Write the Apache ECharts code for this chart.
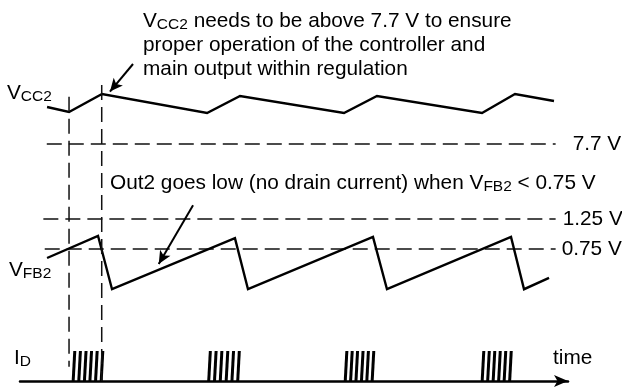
<!DOCTYPE html>
<html>
<head>
<meta charset="utf-8">
<script src="https://cdn.jsdelivr.net/npm/echarts@6/dist/echarts.min.js"></script>
<style>
  html, body { margin: 0; padding: 0; background: #fff; }
  #chart { width: 622px; height: 387px; }
</style>
</head>
<body>
<div id="chart"></div>
<script>
// Time base: arbitrary units, one VFB2 ramp period is about 10 units.
const vcc2Time  = [1.97, 3.57, 5.97, 13.62, 16.02, 23.59, 25.99, 33.64, 36.04, 38.88];
const vcc2Volts = [9.55, 9.30, 10.20, 9.25, 10.10, 9.25, 10.10, 9.25, 10.20, 9.85];

const vfb2Time  = [1.97, 5.68, 6.70, 15.65, 16.60, 25.70, 26.72, 35.75, 36.70, 38.52];
const vfb2Volts = [0.60, 0.97, 0.08, 0.93, 0.08, 0.95, 0.08, 0.95, 0.08, 0.27];

// Drain current pulses (switching bursts while VFB2 is above 0.75 V)
const idPulseTimes = [
  3.93, 4.34, 4.75, 5.15, 5.56, 5.97,
  13.80, 14.22, 14.64, 15.07, 15.49, 15.91,
  23.74, 24.13, 24.52, 24.92, 25.31, 25.70,
  33.71, 34.11, 34.51, 34.91, 35.31, 35.71
];
const idPulseLevel = 1;

// Threshold levels
const vccThreshold = 7.7;
const fbThresholds = [1.25, 0.75];
const thresholdLabels = ['7.7 V', '1.25 V', '0.75 V'];
const thresholdStart = [1.95, 1.70, 1.80];
const thresholdEnd = 39.0;

// Time markers (start / end of the first burst)
const markerTimes = [3.57, 5.95];

const FONT = "'Liberation Sans', Arial, Helvetica, sans-serif";
const FS = 20.8;
const SUB = { fontSize: 15.5, lineHeight: 15.5, verticalAlign: 'bottom', fontFamily: FONT, fill: '#000' };

const zip = (a, b) => a.map((v, i) => [v, b[i]]);

const gridBase = { left: 20, right: 54 };
const xBase = { type: 'value', min: 0, max: 39.9, show: false };

function thresholdSeries(axis, level, start, label, dist) {
  return {
    type: 'line', xAxisIndex: axis, yAxisIndex: axis,
    symbol: 'none', silent: true, clip: false,
    lineStyle: { color: '#111', width: 1.5, type: [15, 7] },
    endLabel: {
      show: true, formatter: label, distance: dist,
      color: '#000', fontFamily: FONT, fontSize: FS
    },
    data: [[start, level], [thresholdEnd, level]]
  };
}

function richText(left, top, text) {
  return {
    type: 'text', left: left, top: top,
    style: {
      text: text, fill: '#000', fontFamily: FONT, fontSize: FS, lineHeight: 24,
      rich: { sub: SUB }
    }
  };
}

const arrowStyle = {
  symbol: ['none', 'arrow'], symbolSize: [9, 13], silent: true,
  label: { show: false },
  lineStyle: { type: 'solid', color: '#000', width: 2 }
};

const chart = echarts.init(document.getElementById('chart'), null, { renderer: 'canvas' });

chart.setOption({
  animation: false,
  backgroundColor: '#fff',
  grid: [
    Object.assign({ top: 40, height: 120 }, gridBase),   // VCC2
    Object.assign({ top: 189, height: 105 }, gridBase),  // VFB2
    Object.assign({ top: 351, height: 30 }, gridBase),   // ID
    Object.assign({ top: 80, height: 301 }, gridBase)    // time markers
  ],
  xAxis: [
    Object.assign({ gridIndex: 0 }, xBase),
    Object.assign({ gridIndex: 1 }, xBase),
    {
      gridIndex: 2, type: 'value', min: 0, max: 39.9, show: true,
      axisLine: { show: true, lineStyle: { color: '#000', width: 2.5 },
                  symbol: ['none', 'arrow'], symbolSize: [9, 14] },
      axisTick: { show: false }, axisLabel: { show: false }, splitLine: { show: false }
    },
    Object.assign({ gridIndex: 3 }, xBase)
  ],
  yAxis: [
    { gridIndex: 0, type: 'value', min: 6.9, max: 12.9, show: false },
    { gridIndex: 1, type: 'value', min: 0, max: 1.75, show: false },
    { gridIndex: 2, type: 'value', min: 0, max: 1, show: false },
    { gridIndex: 3, type: 'value', min: 0, max: 1, show: false }
  ],
  series: [
    thresholdSeries(0, vccThreshold, thresholdStart[0], thresholdLabels[0], 17),
    thresholdSeries(1, fbThresholds[0], thresholdStart[1], thresholdLabels[1], 7),
    thresholdSeries(1, fbThresholds[1], thresholdStart[2], thresholdLabels[2], 6),
    {
      name: 'VCC2', type: 'line', xAxisIndex: 0, yAxisIndex: 0,
      symbol: 'none', silent: true, clip: false,
      lineStyle: { color: '#000', width: 2.4, join: 'miter' },
      data: zip(vcc2Time, vcc2Volts),
      markLine: Object.assign({
        data: [[{ coord: [8.23, 11.7] }, { coord: [6.55, 10.32] }]]
      }, arrowStyle)
    },
    {
      name: 'VFB2', type: 'line', xAxisIndex: 1, yAxisIndex: 1,
      symbol: 'none', silent: true, clip: false,
      lineStyle: { color: '#000', width: 2.4, join: 'miter' },
      data: zip(vfb2Time, vfb2Volts),
      markLine: Object.assign({
        data: [[{ coord: [12.6, 1.48] }, { coord: [10.1, 0.50] }]]
      }, arrowStyle)
    },
    {
      name: 'ID', type: 'custom', xAxisIndex: 2, yAxisIndex: 2, silent: true, clip: false,
      data: idPulseTimes.map(t => [t, idPulseLevel]),
      renderItem: function (params, api) {
        const p0 = api.coord([api.value(0), 0]);
        const p1 = api.coord([api.value(0), api.value(1)]);
        return {
          type: 'line',
          shape: { x1: p0[0] - 0.8, y1: p0[1], x2: p1[0] + 0.8, y2: p1[1] },
          style: { stroke: '#000', lineWidth: 3 }
        };
      }
    },
    {
      type: 'line', xAxisIndex: 3, yAxisIndex: 3, symbol: 'none', silent: true, clip: false,
      lineStyle: { color: '#111', width: 1.5, type: [15, 7] },
      data: [[markerTimes[0], 0.944], [markerTimes[0], 0.047]]
    },
    {
      type: 'line', xAxisIndex: 3, yAxisIndex: 3, symbol: 'none', silent: true, clip: false,
      lineStyle: { color: '#111', width: 1.5, type: [15, 7] },
      data: [[markerTimes[1], 0.983], [markerTimes[1], 0.0]]
    }
  ],
  graphic: [
    richText(143, 9, 'V{sub|CC2} needs to be above 7.7 V to ensure\nproper operation of the controller and\nmain output within regulation'),
    richText(110, 171, 'Out2 goes low (no drain current) when V{sub|FB2} < 0.75 V'),
    richText(7, 81, 'V{sub|CC2}'),
    richText(9, 258, 'V{sub|FB2}'),
    richText(14, 346, 'I{sub|D}'),
    richText(553, 346, 'time')
  ]
});
</script>
</body>
</html>
